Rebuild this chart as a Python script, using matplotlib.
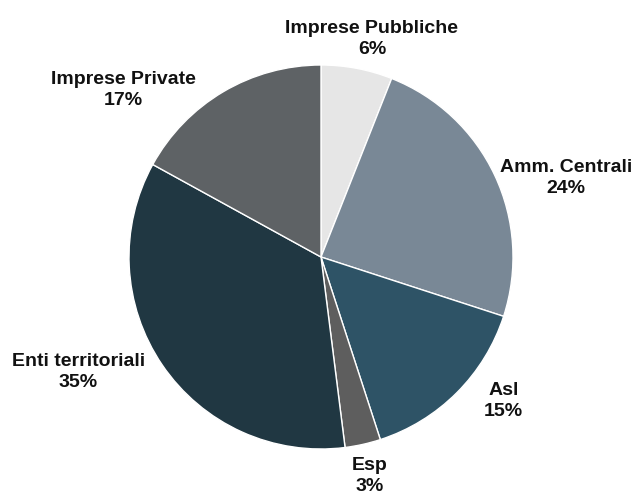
import matplotlib
matplotlib.use("Agg")
import matplotlib.pyplot as plt

categories = ["Imprese Pubbliche", "Amm. Centrali", "Asl", "Esp", "Enti territoriali", "Imprese Private"]
values = [6, 24, 15, 3, 35, 17]
colors = ["#e6e6e6", "#798896", "#2e5366", "#5e5e5e", "#203742", "#5e6265"]

# label centres, in units of pie radius (relative to pie centre)
label_pos = [(0.265, 1.135), (1.275, 0.41), (0.95, -0.75), (0.255, -1.14), (-1.265, -0.60), (-1.03, 0.87)]

fig = plt.figure(figsize=(6.41, 4.93), dpi=100)
ax = fig.add_axes([0, 0, 1, 1])
wedges, _ = ax.pie(values, colors=colors, startangle=90, counterclock=False,
                   radius=1.0, wedgeprops=dict(edgecolor="white", linewidth=1.0))
font = ["Liberation Sans", "DejaVu Sans"]
for cat, v, (x, y) in zip(categories, values, label_pos):
    ax.text(x, y, f"{cat}\n{v}%", ha="center", va="center", multialignment="center",
            fontsize=14, fontweight="bold", family=font, color="#111111", linespacing=1.28)
r = 192.0
ax.set_xlim(-321 / r, (641 - 321) / r)
ax.set_ylim(-(493 - 257) / r, 257 / r)
ax.set_aspect("equal")
ax.axis("off")
fig.savefig("out.png", dpi=100)
